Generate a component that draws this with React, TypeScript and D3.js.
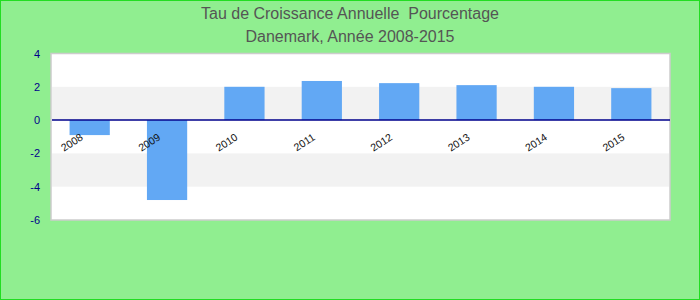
import React from "react";
import * as d3 from "d3";

const years: string[] = ["2008", "2009", "2010", "2011", "2012", "2013", "2014", "2015"];
const growth: number[] = [-0.9, -4.8, 2.0, 2.35, 2.22, 2.1, 2.0, 1.92];
const yTicks: number[] = [-6, -4, -2, 0, 2, 4];
const titleLines: string[] = ["Tau de Croissance Annuelle  Pourcentage", "Danemark, Année 2008-2015"];

export default function App() {
  const W = 700, H = 300;
  const left = 51, right = 670, top = 53.5, bottom = 220;
  const x = d3.scaleBand<string>().domain(years).range([left, right]).paddingInner(0.48).paddingOuter(0.24);
  const y = d3.scaleLinear().domain([-6, 4]).range([bottom, top]);
  const bands: [number, number][] = [[0, 2], [-4, -2]];
  return (
    <svg width={W} height={H} style={{ position: "absolute", left: 0, top: 0, fontFamily: "Arial, 'Liberation Sans', sans-serif" }}>
      <rect x={0.5} y={0.5} width={W - 1} height={H - 1} fill="#90EE90" stroke="#22dd22" strokeWidth={1} />
      {titleLines.map((t, i) => (
        <text key={t} x={350} y={19 + i * 23} textAnchor="middle" fontSize={16} fill="#555" style={{ whiteSpace: "pre" }}>{t}</text>
      ))}
      <rect x={left} y={top} width={right - left} height={bottom - top} fill="#fff" stroke="#ccc" strokeWidth={1.5} />
      {bands.map(([a, b]) => (
        <rect key={a} x={left + 1} y={y(b)} width={right - left - 2} height={y(a) - y(b)} fill="#f2f2f2" />
      ))}
      {years.map((yr, i) => {
        const v = growth[i];
        return (
          <rect key={yr} x={x(yr)!} width={x.bandwidth()} y={y(Math.max(0, v))} height={Math.abs(y(v) - y(0))} fill="#62a8f4" />
        );
      })}
      <line x1={left + 1} x2={right} y1={y(0)} y2={y(0)} stroke="#00008B" strokeWidth={1.5} />
      {yTicks.map((t) => (
        <text key={t} x={40} y={y(t) + 4} textAnchor="end" fontSize={11} fill="#00008B">{t}</text>
      ))}
      {years.map((yr) => {
        const cx = x(yr)! + x.bandwidth() / 2 - 6;
        const cy = y(0) + 19;
        return (
          <text key={yr} x={cx} y={cy} textAnchor="end" fontSize={10.5} fill="#111" transform={`rotate(-33 ${cx} ${cy})`}>{yr}</text>
        );
      })}
    </svg>
  );
}
